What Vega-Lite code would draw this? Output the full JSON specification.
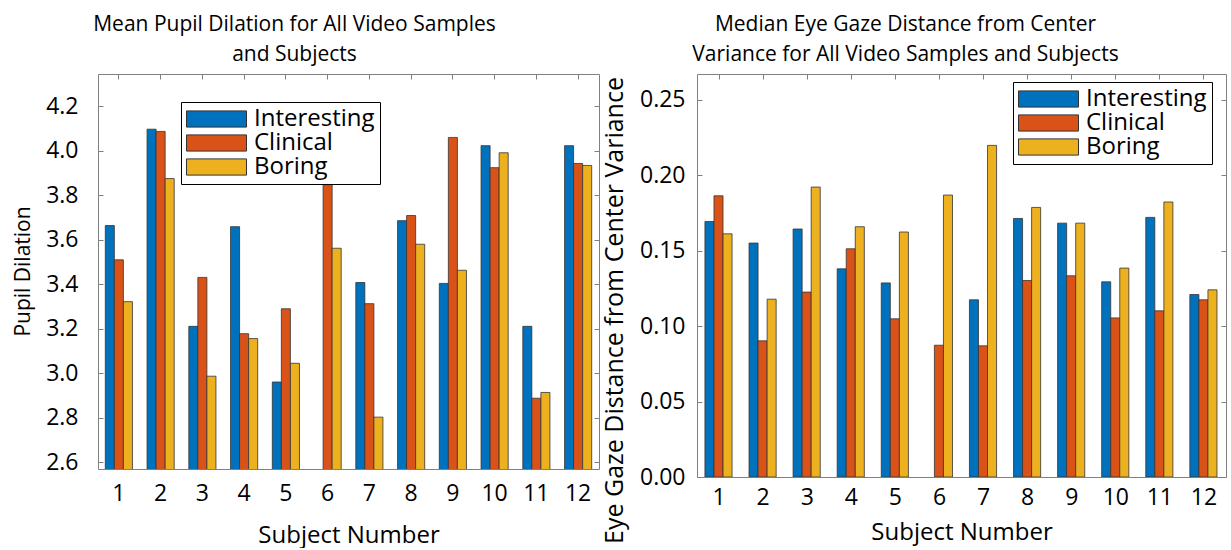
{
  "$schema": "https://vega.github.io/schema/vega-lite/v6.json",
  "background": "white",
  "padding": {"left": 0, "top": 13, "right": 0, "bottom": 0},
  "spacing": 1,
  "resolve": {"scale": {"color": "independent"}, "legend": {"color": "independent"}},
  "config": {
    "font": "Open Sans",
    "view": {"stroke": "#808080", "strokeWidth": 1},
    "title": {"font": "Open Sans", "fontSize": 21, "fontWeight": "normal", "color": "black", "lineHeight": 30, "anchor": "middle", "offset": 9},
    "axis": {"domain": false, "grid": false, "tickColor": "#808080", "tickSize": -5, "labelFont": "Open Sans", "labelColor": "black", "labelFontSize": 23, "titleFont": "Open Sans", "titleFontWeight": "normal", "titleColor": "black", "titleFontSize": 23},
    "legend": {"orient": "none", "strokeColor": "black", "strokeWidth": 1, "fillColor": "white", "padding": 5, "symbolType": "M-1,-0.27H1V0.27H-1Z", "symbolSize": 3600, "symbolStrokeColor": "#333333", "symbolStrokeWidth": 1, "symbolOpacity": 1, "labelFont": "Open Sans", "labelFontSize": 24, "labelColor": "black", "labelOffset": 7, "clipHeight": 24, "rowPadding": 0}
  },
  "hconcat": [
    {
      "title": {"text": ["Mean Pupil Dilation for All Video Samples", "and Subjects"], "dx": -54},
      "width": 501,
      "height": 395,
      "data": {"values": [
        {"subject": 1, "condition": "Interesting", "value": 3.663},
        {"subject": 1, "condition": "Clinical", "value": 3.509},
        {"subject": 1, "condition": "Boring", "value": 3.321},
        {"subject": 2, "condition": "Interesting", "value": 4.096},
        {"subject": 2, "condition": "Clinical", "value": 4.086},
        {"subject": 2, "condition": "Boring", "value": 3.874},
        {"subject": 3, "condition": "Interesting", "value": 3.210},
        {"subject": 3, "condition": "Clinical", "value": 3.430},
        {"subject": 3, "condition": "Boring", "value": 2.986},
        {"subject": 4, "condition": "Interesting", "value": 3.658},
        {"subject": 4, "condition": "Clinical", "value": 3.177},
        {"subject": 4, "condition": "Boring", "value": 3.155},
        {"subject": 5, "condition": "Interesting", "value": 2.960},
        {"subject": 5, "condition": "Clinical", "value": 3.289},
        {"subject": 5, "condition": "Boring", "value": 3.044},
        {"subject": 6, "condition": "Clinical", "value": 3.847},
        {"subject": 6, "condition": "Boring", "value": 3.561},
        {"subject": 7, "condition": "Interesting", "value": 3.407},
        {"subject": 7, "condition": "Clinical", "value": 3.312},
        {"subject": 7, "condition": "Boring", "value": 2.802},
        {"subject": 8, "condition": "Interesting", "value": 3.685},
        {"subject": 8, "condition": "Clinical", "value": 3.708},
        {"subject": 8, "condition": "Boring", "value": 3.579},
        {"subject": 9, "condition": "Interesting", "value": 3.403},
        {"subject": 9, "condition": "Clinical", "value": 4.059},
        {"subject": 9, "condition": "Boring", "value": 3.462},
        {"subject": 10, "condition": "Interesting", "value": 4.022},
        {"subject": 10, "condition": "Clinical", "value": 3.923},
        {"subject": 10, "condition": "Boring", "value": 3.990},
        {"subject": 11, "condition": "Interesting", "value": 3.210},
        {"subject": 11, "condition": "Clinical", "value": 2.887},
        {"subject": 11, "condition": "Boring", "value": 2.913},
        {"subject": 12, "condition": "Interesting", "value": 4.022},
        {"subject": 12, "condition": "Clinical", "value": 3.942},
        {"subject": 12, "condition": "Boring", "value": 3.933}
      ]},
      "resolve": {"axis": {"x": "independent", "y": "independent"}},
      "layer": [
        {
          "mark": {"type": "bar", "stroke": "#333333", "strokeWidth": 0.8, "clip": true},
          "encoding": {
            "x": {"field": "subject", "type": "ordinal", "scale": {"paddingInner": 0.35, "paddingOuter": 0.175},
                  "axis": {"title": "Subject Number", "labelAngle": 0, "labelPadding": 18, "titlePadding": 18, "titleFontSize": 24}},
            "xOffset": {"field": "condition", "type": "nominal", "scale": {"domain": ["Interesting", "Clinical", "Boring"], "paddingInner": 0}},
            "y": {"field": "value", "type": "quantitative", "scale": {"domain": [2.569, 4.344], "zero": false, "nice": false},
                  "axis": {"title": "Pupil Dilation", "values": [2.6, 2.8, 3.0, 3.2, 3.4, 3.6, 3.8, 4.0, 4.2], "format": ".1f", "labelPadding": 25, "minExtent": 97, "maxExtent": 97, "titleX": -75, "titleY": 197, "titleAngle": -90, "titleAlign": "center", "titleBaseline": "middle", "titleFontSize": 21}},
            "color": {"field": "condition", "type": "nominal", "scale": {"domain": ["Interesting", "Clinical", "Boring"], "range": ["#0072BD", "#D95319", "#EDB120"]},
                      "legend": {"title": null, "legendX": 83, "legendY": 28}}
          }
        },
        {
          "mark": {"type": "bar", "opacity": 0, "clip": true},
          "encoding": {
            "x": {"field": "subject", "type": "ordinal", "scale": {"paddingInner": 0.35, "paddingOuter": 0.175},
                  "axis": {"orient": "top", "labels": false, "title": null}},
            "y": {"field": "value", "type": "quantitative", "scale": {"domain": [2.569, 4.344], "zero": false, "nice": false},
                  "axis": {"orient": "right", "labels": false, "title": null, "values": [2.6, 2.8, 3.0, 3.2, 3.4, 3.6, 3.8, 4.0, 4.2]}}
          }
        }
      ]
    },
    {
      "title": {"text": ["Median Eye Gaze Distance from Center", "Variance for All Video Samples and Subjects"], "dx": -56},
      "width": 529,
      "height": 403,
      "data": {"values": [
        {"subject": 1, "condition": "Interesting", "value": 0.1693},
        {"subject": 1, "condition": "Clinical", "value": 0.1863},
        {"subject": 1, "condition": "Boring", "value": 0.1611},
        {"subject": 2, "condition": "Interesting", "value": 0.1550},
        {"subject": 2, "condition": "Clinical", "value": 0.0902},
        {"subject": 2, "condition": "Boring", "value": 0.1178},
        {"subject": 3, "condition": "Interesting", "value": 0.1643},
        {"subject": 3, "condition": "Clinical", "value": 0.1225},
        {"subject": 3, "condition": "Boring", "value": 0.1921},
        {"subject": 4, "condition": "Interesting", "value": 0.1379},
        {"subject": 4, "condition": "Clinical", "value": 0.1512},
        {"subject": 4, "condition": "Boring", "value": 0.1658},
        {"subject": 5, "condition": "Interesting", "value": 0.1286},
        {"subject": 5, "condition": "Clinical", "value": 0.1048},
        {"subject": 5, "condition": "Boring", "value": 0.1623},
        {"subject": 6, "condition": "Clinical", "value": 0.0873},
        {"subject": 6, "condition": "Boring", "value": 0.1868},
        {"subject": 7, "condition": "Interesting", "value": 0.1174},
        {"subject": 7, "condition": "Clinical", "value": 0.0869},
        {"subject": 7, "condition": "Boring", "value": 0.2197},
        {"subject": 8, "condition": "Interesting", "value": 0.1713},
        {"subject": 8, "condition": "Clinical", "value": 0.1302},
        {"subject": 8, "condition": "Boring", "value": 0.1786},
        {"subject": 9, "condition": "Interesting", "value": 0.1682},
        {"subject": 9, "condition": "Clinical", "value": 0.1333},
        {"subject": 9, "condition": "Boring", "value": 0.1682},
        {"subject": 10, "condition": "Interesting", "value": 0.1293},
        {"subject": 10, "condition": "Clinical", "value": 0.1054},
        {"subject": 10, "condition": "Boring", "value": 0.1384},
        {"subject": 11, "condition": "Interesting", "value": 0.1720},
        {"subject": 11, "condition": "Clinical", "value": 0.1101},
        {"subject": 11, "condition": "Boring", "value": 0.1822},
        {"subject": 12, "condition": "Interesting", "value": 0.1209},
        {"subject": 12, "condition": "Clinical", "value": 0.1174},
        {"subject": 12, "condition": "Boring", "value": 0.1240}
      ]},
      "resolve": {"axis": {"x": "independent", "y": "independent"}},
      "layer": [
        {
          "mark": {"type": "bar", "stroke": "#333333", "strokeWidth": 0.8, "clip": true},
          "encoding": {
            "x": {"field": "subject", "type": "ordinal", "scale": {"paddingInner": 0.36, "paddingOuter": 0.18},
                  "axis": {"title": "Subject Number", "labelAngle": 0, "labelPadding": 14, "titlePadding": 11, "titleFontSize": 24}},
            "xOffset": {"field": "condition", "type": "nominal", "scale": {"domain": ["Interesting", "Clinical", "Boring"], "paddingInner": 0}},
            "y": {"field": "value", "type": "quantitative", "scale": {"domain": [0, 0.267], "nice": false},
                  "axis": {"title": "Eye Gaze Distance from Center Variance", "values": [0, 0.05, 0.1, 0.15, 0.2, 0.25], "format": ".2f", "labelPadding": 17, "minExtent": 95, "maxExtent": 95, "titleX": -83, "titleY": 236, "titleAngle": -90, "titleAlign": "center", "titleBaseline": "middle", "titleFontSize": 25}},
            "color": {"field": "condition", "type": "nominal", "scale": {"domain": ["Interesting", "Clinical", "Boring"], "range": ["#0072BD", "#D95319", "#EDB120"]},
                      "legend": {"title": null, "legendX": 316, "legendY": 8}}
          }
        },
        {
          "mark": {"type": "bar", "opacity": 0, "clip": true},
          "encoding": {
            "x": {"field": "subject", "type": "ordinal", "scale": {"paddingInner": 0.36, "paddingOuter": 0.18},
                  "axis": {"orient": "top", "labels": false, "title": null}},
            "y": {"field": "value", "type": "quantitative", "scale": {"domain": [0, 0.267], "nice": false},
                  "axis": {"orient": "right", "labels": false, "title": null, "values": [0, 0.05, 0.1, 0.15, 0.2, 0.25]}}
          }
        }
      ]
    }
  ]
}
